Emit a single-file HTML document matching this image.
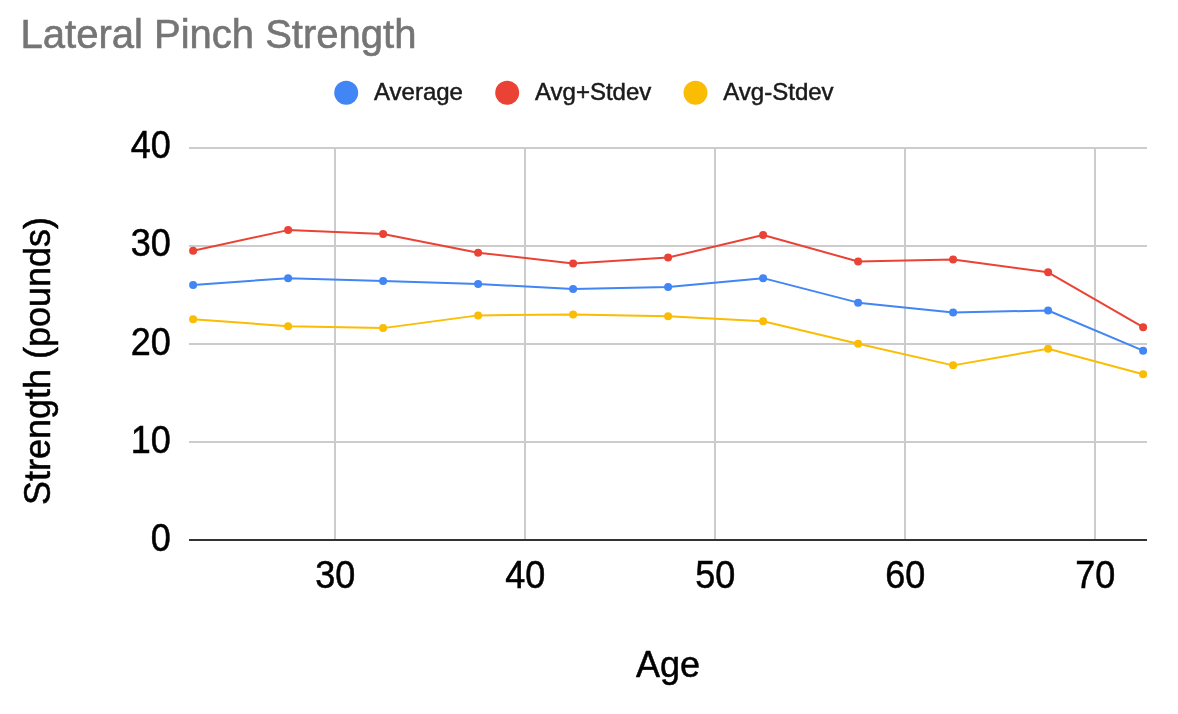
<!DOCTYPE html>
<html lang="en">
<head>
<meta charset="utf-8">
<title>Lateral Pinch Strength</title>
<style>
html,body{margin:0;padding:0;background:#fff;}
body{width:1178px;height:714px;overflow:hidden;}
svg{display:block;}
text{font-family:"Liberation Sans",Arial,Helvetica,sans-serif;}
.t{fill:#757575;stroke:#757575;stroke-width:.6px;}
.l{fill:#1a1a1a;stroke:#1a1a1a;stroke-width:.5px;}
.k{fill:#000;stroke:#000;stroke-width:.5px;}
</style>
</head>
<body>
<svg width="1178" height="714" viewBox="0 0 1178 714">
<rect x="0" y="0" width="1178" height="714" fill="#ffffff"/>
<text class="t" x="20.6" y="48" font-size="40">Lateral Pinch Strength</text>
<g font-size="24" class="l">
<circle cx="346.2" cy="92.8" r="12" fill="#4285f4" stroke="none"/>
<text x="374" y="100">Average</text>
<circle cx="507.2" cy="92.8" r="12" fill="#ea4335" stroke="none"/>
<text x="535" y="100">Avg+Stdev</text>
<circle cx="695.5" cy="92.8" r="12" fill="#fbbc04" stroke="none"/>
<text x="723.3" y="100">Avg-Stdev</text>
</g>
<g fill="#cccccc">
<rect x="189" y="147" width="958" height="2"/>
<rect x="189" y="245" width="958" height="2"/>
<rect x="189" y="343" width="958" height="2"/>
<rect x="189" y="441" width="958" height="2"/>
<rect x="334" y="147" width="2" height="393"/>
<rect x="524" y="147" width="2" height="393"/>
<rect x="714" y="147" width="2" height="393"/>
<rect x="904" y="147" width="2" height="393"/>
<rect x="1094" y="147" width="2" height="393"/>
</g>
<rect x="189" y="539" width="958" height="2" fill="#333333"/>
<polyline points="193.1,285.00 288.1,278.14 383.1,281.08 478.1,284.02 573.1,288.92 668.1,286.96 763.1,278.14 858.1,302.64 953.1,312.44 1048.1,310.48 1143.1,350.66" fill="none" stroke="#4285f4" stroke-width="2" stroke-linejoin="round"/>
<polyline points="193.1,250.70 288.1,230.12 383.1,234.04 478.1,252.66 573.1,263.44 668.1,257.56 763.1,235.02 858.1,261.48 953.1,259.52 1048.1,272.26 1143.1,327.14" fill="none" stroke="#ea4335" stroke-width="2" stroke-linejoin="round"/>
<polyline points="193.1,319.30 288.1,326.16 383.1,328.12 478.1,315.38 573.1,314.40 668.1,316.36 763.1,321.26 858.1,343.80 953.1,365.36 1048.1,348.70 1143.1,374.18" fill="none" stroke="#fbbc04" stroke-width="2" stroke-linejoin="round"/>
<g fill="#4285f4"><circle cx="193.1" cy="285.00" r="4"/><circle cx="288.1" cy="278.14" r="4"/><circle cx="383.1" cy="281.08" r="4"/><circle cx="478.1" cy="284.02" r="4"/><circle cx="573.1" cy="288.92" r="4"/><circle cx="668.1" cy="286.96" r="4"/><circle cx="763.1" cy="278.14" r="4"/><circle cx="858.1" cy="302.64" r="4"/><circle cx="953.1" cy="312.44" r="4"/><circle cx="1048.1" cy="310.48" r="4"/><circle cx="1143.1" cy="350.66" r="4"/></g>
<g fill="#ea4335"><circle cx="193.1" cy="250.70" r="4"/><circle cx="288.1" cy="230.12" r="4"/><circle cx="383.1" cy="234.04" r="4"/><circle cx="478.1" cy="252.66" r="4"/><circle cx="573.1" cy="263.44" r="4"/><circle cx="668.1" cy="257.56" r="4"/><circle cx="763.1" cy="235.02" r="4"/><circle cx="858.1" cy="261.48" r="4"/><circle cx="953.1" cy="259.52" r="4"/><circle cx="1048.1" cy="272.26" r="4"/><circle cx="1143.1" cy="327.14" r="4"/></g>
<g fill="#fbbc04"><circle cx="193.1" cy="319.30" r="4"/><circle cx="288.1" cy="326.16" r="4"/><circle cx="383.1" cy="328.12" r="4"/><circle cx="478.1" cy="315.38" r="4"/><circle cx="573.1" cy="314.40" r="4"/><circle cx="668.1" cy="316.36" r="4"/><circle cx="763.1" cy="321.26" r="4"/><circle cx="858.1" cy="343.80" r="4"/><circle cx="953.1" cy="365.36" r="4"/><circle cx="1048.1" cy="348.70" r="4"/><circle cx="1143.1" cy="374.18" r="4"/></g>
<g font-size="36" class="k" text-anchor="end">
<text transform="translate(170.8,158) scale(1,1.06)">40</text>
<text transform="translate(170.8,256) scale(1,1.06)">30</text>
<text transform="translate(170.8,355) scale(1,1.06)">20</text>
<text transform="translate(170.8,453) scale(1,1.06)">10</text>
<text transform="translate(170.8,551) scale(1,1.06)">0</text>
</g>
<g font-size="36" class="k" text-anchor="middle">
<text transform="translate(335.2,588) scale(1,1.06)">30</text>
<text transform="translate(525.2,588) scale(1,1.06)">40</text>
<text transform="translate(715.2,588) scale(1,1.06)">50</text>
<text transform="translate(905.2,588) scale(1,1.06)">60</text>
<text transform="translate(1095.2,588) scale(1,1.06)">70</text>
</g>
<text class="k" x="668" y="677" font-size="36" text-anchor="middle">Age</text>
<text class="k" transform="translate(50.2,361) rotate(-90)" font-size="36" text-anchor="middle">Strength (pounds)</text>
</svg>
</body>
</html>
